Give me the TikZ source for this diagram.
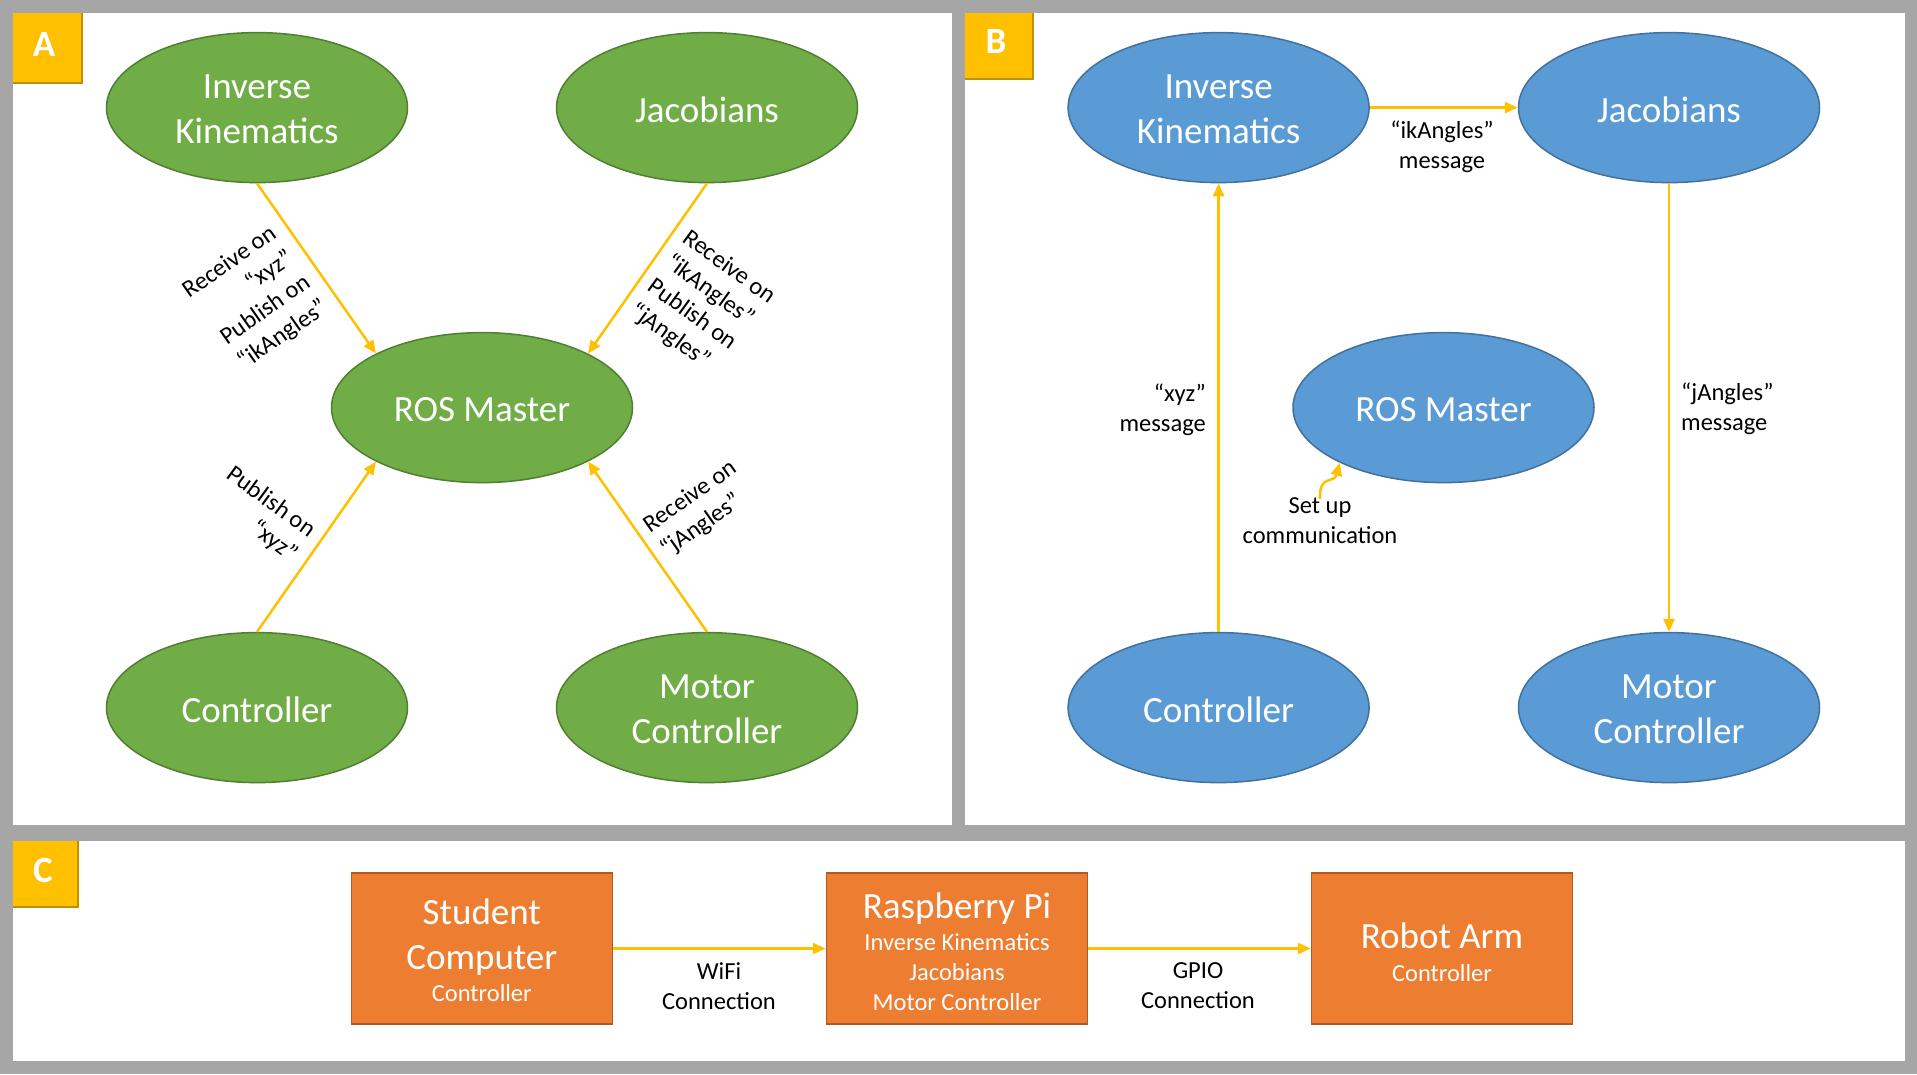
\documentclass[tikz,border=0pt]{standalone}
\usepackage{fontspec}
\setmainfont{Carlito}
\usetikzlibrary{shapes.geometric,arrows.meta}
\definecolor{bggray}{HTML}{A6A6A6}
\definecolor{tagfill}{HTML}{FFC000}
\definecolor{tagedge}{HTML}{BF9000}
\definecolor{gfill}{HTML}{70AD47}
\definecolor{gedge}{HTML}{507E32}
\definecolor{bfill}{HTML}{5B9BD5}
\definecolor{bedge}{HTML}{41719C}
\definecolor{ofill}{HTML}{ED7D31}
\definecolor{oedge}{HTML}{AE5A21}
\definecolor{arrc}{HTML}{FFC000}
\begin{document}
\begin{tikzpicture}[x=1pt,y=-1pt,
  bigfont/.style={font=\fontsize{37}{45}\selectfont},
  smallfont/.style={font=\fontsize{24.5}{30}\selectfont},
  oval/.style={ellipse,minimum width=301pt,minimum height=150pt,inner sep=0pt,line width=1.5pt,text=white,align=center,bigfont},
  goval/.style={oval,fill=gfill,draw=gedge},
  boval/.style={oval,fill=bfill,draw=bedge},
  obox/.style={rectangle,fill=ofill,draw=oedge,line width=1.5pt,minimum width=261pt,minimum height=151pt,inner sep=0pt},
  boxtext/.style={text=white,inner sep=0pt,anchor=base},
  ovaltext/.style={text=white,inner sep=0pt,align=center,bigfont},
  lbl/.style={smallfont,inner sep=0pt,text=black},
  arr/.style={draw=arrc,line width=2.5pt,-{Triangle[length=13pt,width=11pt]}},
  tagletter/.style={text=white,font=\fontsize{37}{45}\selectfont\bfseries,inner sep=0pt}
]
\useasboundingbox (0,0) rectangle (1917,1074);
\fill[bggray] (0,0) rectangle (1917,1074);
% panels
\fill[white] (12.7,12.7) rectangle (952.3,825);
\fill[white] (965,12.7) rectangle (1904.5,825);
\fill[white] (12.7,841) rectangle (1904.5,1061);
% tags
\fill[tagfill] (12.7,12.7) rectangle (82,82.7);
\draw[tagedge,line width=2pt] (82,12.7) -- (82,82.7) -- (12.7,82.7);
\node[tagletter] (tagA) at (44,45) {A};
\fill[tagfill] (965,12.7) rectangle (1032.7,78.7);
\draw[tagedge,line width=2pt] (1032.7,12.7) -- (1032.7,78.7) -- (965,78.7);
\node[tagletter] (tagB) at (996,42) {B};
\fill[tagfill] (12.7,841) rectangle (78,906.7);
\draw[tagedge,line width=2pt] (78,841) -- (78,906.7) -- (12.7,906.7);
\node[tagletter] (tagC) at (43,870) {C};

% ---------- Panel A ----------
\node[goval] (ikA) at (257,107.6) {};
\node[goval] (jacA) at (707,107.6) {};
\node[goval] (rosA) at (482,407.6) {};
\node[goval] (ctrlA) at (257,707.6) {};
\node[goval] (motA) at (707,707.6) {};
\node[ovaltext] (ikAt) at ([yshift=-2pt]ikA.center) {Inverse\\Kinematics};
\node[ovaltext] (jacAt) at ([yshift=-2pt]jacA.center) {Jacobians};
\node[ovaltext] (rosAt) at ([yshift=-2pt]rosA.center) {ROS Master};
\node[ovaltext] (ctrlAt) at ([yshift=-2pt]ctrlA.center) {Controller};
\node[ovaltext] (motAt) at ([yshift=-2pt]motA.center) {Motor\\Controller};
\draw[arr] (ikA.south) -- (rosA.153);
\draw[arr] (jacA.south) -- (rosA.27);
\draw[arr] (ctrlA.north) -- (rosA.207);
\draw[arr] (motA.north) -- (rosA.333);
\node[lbl,anchor=east,rotate=35,align=right] (lA1) at (300,268.5) {Receive on\\“xyz”\\Publish on\\“ikAngles”};
\node[lbl,anchor=west,rotate=-36,align=left] (lA2) at (658.8,272.4) {Receive on\\“ikAngles”\\Publish on\\“jAngles”};
\node[lbl,anchor=east,rotate=-36,align=right] (lA3) at (304,545) {Publish on\\“xyz”};
\node[lbl,anchor=west,rotate=35,align=left] (lA4) at (655,540.5) {Receive on\\“jAngles”};

% ---------- Panel B ----------
\node[boval] (ikB) at (1218.6,107.6) {};
\node[boval] (jacB) at (1669,107.6) {};
\node[boval] (rosB) at (1443.5,407.6) {};
\node[boval] (ctrlB) at (1218.6,707.6) {};
\node[boval] (motB) at (1669,707.6) {};
\node[ovaltext] (ikBt) at ([yshift=-2pt]ikB.center) {Inverse\\Kinematics};
\node[ovaltext] (jacBt) at ([yshift=-2pt]jacB.center) {Jacobians};
\node[ovaltext] (rosBt) at ([yshift=-2pt]rosB.center) {ROS Master};
\node[ovaltext] (ctrlBt) at ([yshift=-2pt]ctrlB.center) {Controller};
\node[ovaltext] (motBt) at ([yshift=-2pt]motB.center) {Motor\\Controller};
\draw[arr] (ikB.east) -- (jacB.west);
\draw[arr] (ctrlB.north) -- (ikB.south);
\draw[arr] (jacB.south) -- (motB.north);
\node[lbl,align=center] (lB1) at (1442,147) {“ikAngles”\\message};
\node[lbl,align=right,anchor=east] (lB2) at (1206,410) {“xyz”\\message};
\node[lbl,align=left,anchor=west] (lB3) at (1681,409) {“jAngles”\\message};
\node[lbl,align=center] (lB4) at (1320,521) {Set up\\communication};
\draw[arr] ([yshift=-1pt]lB4.north) .. controls (1319,474) and (1334,484) .. (rosB.208);

% ---------- Panel C ----------
\node[obox] (stu) at (481.8,948.5) {};
\node[obox] (rpi) at (957,948.5) {};
\node[obox] (arm) at (1442,948.5) {};
\draw[arr] (stu.east) -- (rpi.west);
\draw[arr] (rpi.east) -- (arm.west);
\node[boxtext,bigfont] (t1) at (481.8,924.5) {Student};
\node[boxtext,bigfont] (t2) at (481.8,969.5) {Computer};
\node[boxtext,smallfont] (t3) at (481.8,1001.5) {Controller};
\node[boxtext,bigfont] (t4) at (957,918) {Raspberry Pi};
\node[boxtext,smallfont] (t5) at (957,950.5) {Inverse Kinematics};
\node[boxtext,smallfont] (t6) at (957,980.5) {Jacobians};
\node[boxtext,smallfont] (t7) at (957,1010.5) {Motor Controller};
\node[boxtext,bigfont] (t8) at (1442,948.5) {Robot Arm};
\node[boxtext,smallfont] (t9) at (1442,981) {Controller};
\node[lbl,anchor=base] (w1) at (719,979.5) {WiFi};
\node[lbl,anchor=base] (w2) at (719,1009.5) {Connection};
\node[lbl,anchor=base] (g1) at (1198,978.5) {GPIO};
\node[lbl,anchor=base] (g2) at (1198,1008.5) {Connection};
\end{tikzpicture}
\end{document}
